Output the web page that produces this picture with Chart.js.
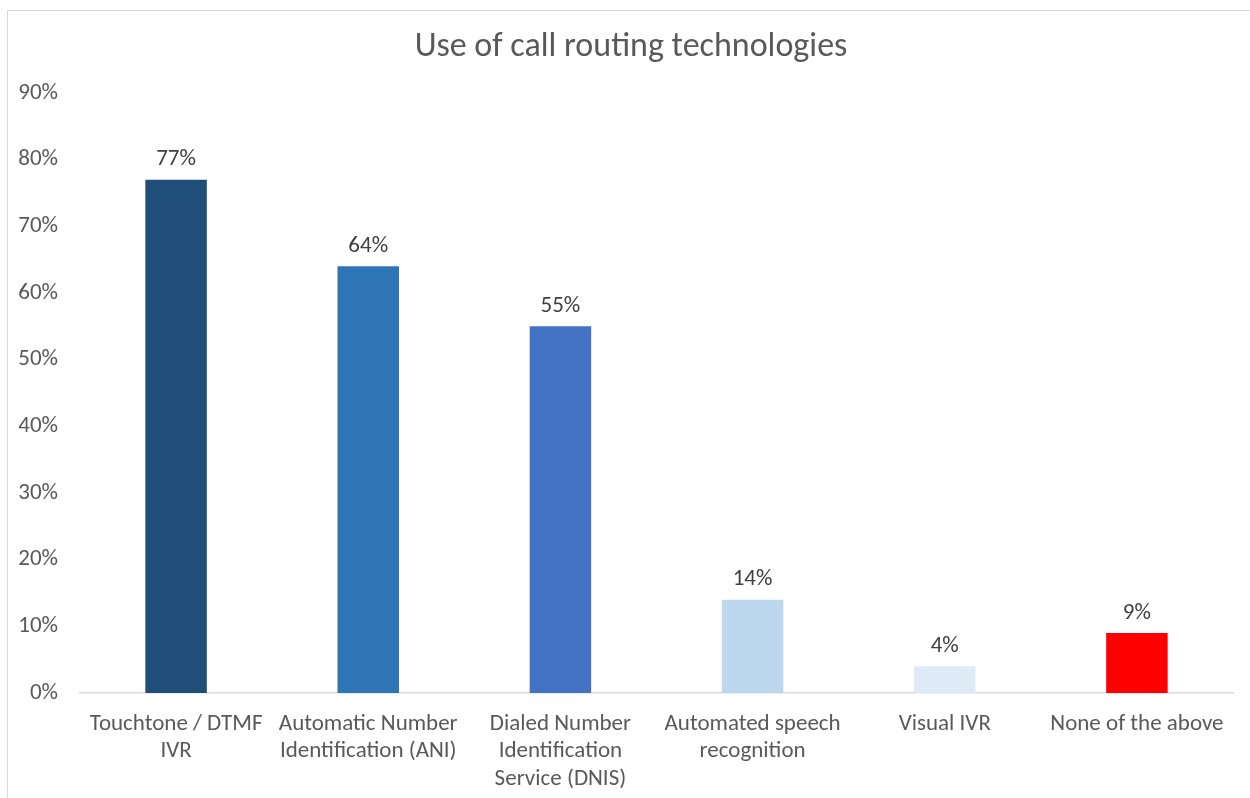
<!DOCTYPE html>
<html>
<head>
<meta charset="utf-8">
<script src="https://cdn.jsdelivr.net/npm/chart.js@4"></script>
<style>
  body { margin: 0; background: #fff; }
  #frame { position: absolute; left: 7px; top: 10px; width: 1260px; height: 800px; border: 1px solid #d9d9d9; }
  #wrap { position: absolute; left: 0; top: 0; width: 1250px; height: 798px; }
</style>
</head>
<body>
<div id="frame"></div>
<div id="wrap"><canvas id="chart"></canvas></div>
<script>
const categories = [
  ['Touchtone / DTMF', 'IVR'],
  ['Automatic Number', 'Identification (ANI)'],
  ['Dialed Number', 'Identification', 'Service (DNIS)'],
  ['Automated speech', 'recognition'],
  ['Visual IVR'],
  ['None of the above']
];
const values = [77, 64, 55, 14, 4, 9];
const barColors = ['#1f4e79', '#2e75b6', '#4472c4', '#bdd7ee', '#deebf7', '#ff0000'];
const yTicks = [0, 10, 20, 30, 40, 50, 60, 70, 80, 90];

const FONT = "Carlito, Calibri, 'Liberation Sans', sans-serif";

// value labels above bars + title
const labelPlugin = {
  id: 'labels',
  afterDatasetsDraw(chart) {
    const ctx = chart.ctx;
    const meta = chart.getDatasetMeta(0);
    ctx.save();
    ctx.fillStyle = '#404040';
    ctx.font = '23px ' + FONT;
    ctx.textAlign = 'center';
    ctx.textBaseline = 'middle';
    meta.data.forEach((bar, i) => {
      ctx.fillText(values[i] + '%', bar.x, bar.y - 20);
    });
    ctx.fillStyle = '#595959';
    ctx.font = '300 34px ' + FONT;
    ctx.fillText('Use of call routing technologies', 631, 47);
    ctx.restore();
  }
};

new Chart(document.getElementById('chart'), {
  type: 'bar',
  data: {
    labels: categories,
    datasets: [{
      data: values,
      backgroundColor: barColors,
      barPercentage: 0.64,
      categoryPercentage: 0.5
    }]
  },
  options: {
    responsive: true,
    maintainAspectRatio: false,
    animation: false,
    layout: { padding: { top: 93, right: 17, bottom: 0, left: 0 } },
    plugins: { legend: { display: false }, tooltip: { enabled: false } },
    scales: {
      x: {
        grid: { display: false },
        border: { display: true, color: '#d9d9d9', width: 1.5 },
        ticks: { color: '#595959', font: { size: 23, family: FONT }, maxRotation: 0, padding: 9 },
        afterFit(scale) { scale.height = 105; }
      },
      y: {
        min: 0,
        max: 90,
        afterBuildTicks(scale) { scale.ticks = yTicks.map(v => ({ value: v })); },
        grid: { display: false },
        border: { display: false },
        ticks: { color: '#595959', font: { size: 23, family: FONT }, padding: 14, callback: v => v + '%' },
        afterFit(scale) { scale.width = 80; }
      }
    }
  },
  plugins: [labelPlugin]
});
</script>
</body>
</html>
